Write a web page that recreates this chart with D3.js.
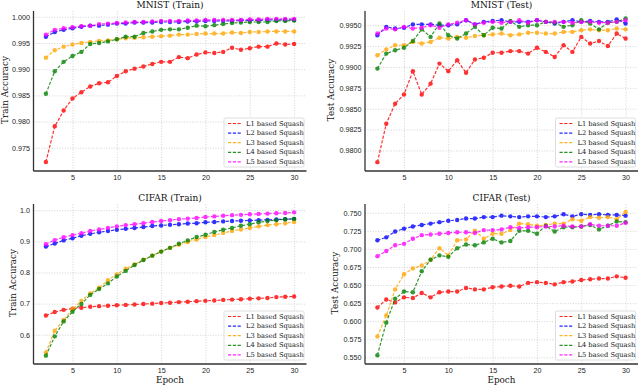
<!DOCTYPE html>
<html>
<head>
<meta charset="utf-8">
<script src="https://cdn.jsdelivr.net/npm/d3@7"></script>
<style>
  body { margin: 0; background: #fff; }
  svg { display: block; font-family: "DejaVu Serif", serif; }
  .grid line { stroke: #c8c8c8; stroke-width: 0.8; stroke-dasharray: 1,1.6; }
  .axis path { stroke: #333; stroke-width: 1.3; }
  .axis text { fill: #222; font-size: 7.2px; }
</style>
</head>
<body>
<div id="chart"></div>
<script>
const epochs = [2, 3, 4, 5, 6, 7, 8, 9, 10, 11, 12, 13, 14, 15, 16, 17, 18, 19, 20, 21, 22, 23, 24, 25, 26, 27, 28, 29, 30];
const seriesNames = ["L1 based Squash", "L2 based Squash", "L3 based Squash", "L4 based Squash", "L5 based Squash"];
const seriesColors = ["#ff0000", "#0000ff", "#ffa500", "#008000", "#ff00ff"];
const xTicks = [5, 10, 15, 20, 25, 30];

// MNIST train
const mnistTrainL1 = [0.9723,0.9791,0.9821,0.9844,0.9856,0.9867,0.9873,0.9875,0.9887,0.9896,0.9901,0.9905,0.9910,0.9914,0.9914,0.9923,0.9921,0.9928,0.9932,0.9931,0.9933,0.9941,0.9937,0.9940,0.9943,0.9943,0.9949,0.9947,0.9948];
const mnistTrainL2 = [0.9962,0.9971,0.9975,0.9978,0.9981,0.9983,0.9983,0.9985,0.9987,0.9987,0.9989,0.9989,0.9989,0.9990,0.9990,0.9990,0.9991,0.9991,0.9992,0.9992,0.9992,0.9992,0.9993,0.9993,0.9993,0.9994,0.9994,0.9994,0.9994];
const mnistTrainL3 = [0.9922,0.9936,0.9943,0.9947,0.9950,0.9952,0.9954,0.9955,0.9957,0.9959,0.9960,0.9961,0.9962,0.9963,0.9964,0.9966,0.9966,0.9967,0.9968,0.9968,0.9968,0.9970,0.9969,0.9971,0.9971,0.9972,0.9972,0.9972,0.9972];
const mnistTrainL4 = [0.9853,0.9896,0.9914,0.9925,0.9933,0.9948,0.9950,0.9953,0.9957,0.9962,0.9962,0.9969,0.9972,0.9975,0.9976,0.9976,0.9979,0.9983,0.9982,0.9984,0.9986,0.9988,0.9989,0.9990,0.9990,0.9990,0.9992,0.9992,0.9993];
const mnistTrainL5 = [0.9966,0.9975,0.9978,0.9980,0.9982,0.9983,0.9986,0.9987,0.9988,0.9989,0.9990,0.9990,0.9991,0.9992,0.9992,0.9992,0.9993,0.9993,0.9994,0.9994,0.9994,0.9994,0.9994,0.9995,0.9995,0.9996,0.9996,0.9996,0.9996];
const mnistTrainTicks = [0.975, 0.980, 0.985, 0.990, 0.995, 1.000];

// MNIST test
const mnistTestL1 = [0.9786,0.9832,0.9856,0.9867,0.9895,0.9867,0.9880,0.9904,0.9895,0.9908,0.9893,0.9909,0.9911,0.9917,0.9917,0.9919,0.9919,0.9916,0.9923,0.9918,0.9912,0.9926,0.9918,0.9936,0.9928,0.9931,0.9925,0.9940,0.9934];
const mnistTestL2 = [0.9938,0.9948,0.9946,0.9947,0.9951,0.9951,0.9951,0.9950,0.9950,0.9951,0.9956,0.9951,0.9954,0.9955,0.9956,0.9954,0.9954,0.9954,0.9956,0.9954,0.9952,0.9954,0.9956,0.9954,0.9955,0.9954,0.9954,0.9957,0.9952];
const mnistTestL3 = [0.9914,0.9921,0.9926,0.9926,0.9930,0.9928,0.9930,0.9935,0.9934,0.9936,0.9935,0.9937,0.9938,0.9939,0.9940,0.9938,0.9939,0.9941,0.9941,0.9940,0.9940,0.9942,0.9942,0.9944,0.9945,0.9944,0.9944,0.9946,0.9945];
const mnistTestL4 = [0.9898,0.9916,0.9920,0.9923,0.9931,0.9945,0.9936,0.9952,0.9938,0.9934,0.9940,0.9948,0.9938,0.9947,0.9946,0.9955,0.9948,0.9950,0.9950,0.9954,0.9953,0.9948,0.9950,0.9956,0.9952,0.9945,0.9953,0.9954,0.9958];
const mnistTestL5 = [0.9940,0.9946,0.9945,0.9948,0.9946,0.9947,0.9950,0.9947,0.9951,0.9953,0.9956,0.9951,0.9953,0.9954,0.9953,0.9954,0.9956,0.9953,0.9956,0.9954,0.9954,0.9954,0.9953,0.9954,0.9954,0.9953,0.9953,0.9954,0.9956];
const mnistTestTicks = [0.9800, 0.9825, 0.9850, 0.9875, 0.9900, 0.9925, 0.9950];

// CIFAR train
const cifarTrainL1 = [0.662,0.673,0.680,0.684,0.687,0.690,0.692,0.693,0.695,0.696,0.697,0.699,0.700,0.702,0.703,0.705,0.706,0.708,0.709,0.710,0.712,0.713,0.714,0.716,0.717,0.718,0.721,0.722,0.723];
const cifarTrainL2 = [0.883,0.893,0.903,0.910,0.918,0.924,0.929,0.933,0.937,0.940,0.943,0.946,0.949,0.951,0.953,0.955,0.957,0.958,0.961,0.962,0.964,0.965,0.966,0.967,0.968,0.969,0.970,0.971,0.972];
const cifarTrainL3 = [0.543,0.613,0.648,0.682,0.709,0.733,0.751,0.775,0.794,0.812,0.826,0.841,0.854,0.867,0.879,0.889,0.898,0.906,0.914,0.920,0.927,0.933,0.938,0.943,0.948,0.952,0.955,0.958,0.962];
const cifarTrainL4 = [0.533,0.595,0.643,0.674,0.699,0.728,0.747,0.765,0.787,0.805,0.824,0.840,0.854,0.867,0.879,0.892,0.903,0.914,0.921,0.930,0.937,0.943,0.950,0.955,0.961,0.965,0.968,0.971,0.972];
const cifarTrainL5 = [0.891,0.904,0.913,0.920,0.926,0.933,0.938,0.943,0.948,0.952,0.955,0.958,0.962,0.965,0.968,0.971,0.973,0.975,0.978,0.980,0.982,0.984,0.985,0.987,0.988,0.989,0.990,0.991,0.993];
const cifarTrainTicks = [0.6, 0.7, 0.8, 0.9, 1.0];

// CIFAR test
const cifarTestL1 = [0.619,0.630,0.626,0.633,0.632,0.639,0.633,0.640,0.641,0.641,0.646,0.644,0.644,0.647,0.648,0.649,0.648,0.653,0.654,0.653,0.651,0.654,0.655,0.657,0.658,0.659,0.659,0.662,0.660];
const cifarTestL2 = [0.712,0.716,0.724,0.728,0.731,0.733,0.735,0.737,0.739,0.740,0.742,0.742,0.744,0.744,0.746,0.745,0.744,0.745,0.745,0.744,0.745,0.748,0.745,0.748,0.747,0.748,0.747,0.747,0.746];
const cifarTestL3 = [0.579,0.608,0.644,0.665,0.673,0.677,0.685,0.701,0.691,0.712,0.713,0.725,0.714,0.721,0.721,0.726,0.735,0.734,0.732,0.733,0.735,0.735,0.741,0.739,0.744,0.743,0.744,0.741,0.751];
const cifarTestL4 = [0.553,0.598,0.631,0.641,0.640,0.669,0.685,0.691,0.689,0.701,0.706,0.705,0.709,0.714,0.709,0.711,0.725,0.725,0.721,0.732,0.724,0.730,0.730,0.731,0.733,0.727,0.732,0.738,0.737];
const cifarTestL5 = [0.690,0.697,0.705,0.707,0.714,0.719,0.720,0.721,0.722,0.723,0.723,0.722,0.726,0.726,0.727,0.730,0.729,0.730,0.730,0.731,0.731,0.732,0.731,0.731,0.734,0.732,0.732,0.732,0.736];
const cifarTestTicks = [0.550, 0.575, 0.600, 0.625, 0.650, 0.675, 0.700, 0.725, 0.750];

const panels = [
    { title: "MNIST (Train)", ylabel: "Train Accuracy", xlabel: "",
      series: [mnistTrainL1, mnistTrainL2, mnistTrainL3, mnistTrainL4, mnistTrainL5],
      ticks: mnistTrainTicks, fmt: ".3f", ydom: [0.97057, 1.0011],
      left: 33.5, top: 11, ylab: 5 },
    { title: "MNIST (Test)", ylabel: "Test Accuracy", xlabel: "",
      series: [mnistTestL1, mnistTestL2, mnistTestL3, mnistTestL4, mnistTestL5],
      ticks: mnistTestTicks, fmt: ".4f", ydom: [0.97754, 0.9967],
      left: 365, top: 11, ylab: 331 },
    { title: "CIFAR (Train)", ylabel: "Train Accuracy", xlabel: "Epoch",
      series: [cifarTrainL1, cifarTrainL2, cifarTrainL3, cifarTrainL4, cifarTrainL5],
      ticks: cifarTrainTicks, fmt: ".1f", ydom: [0.50624, 1.0198],
      left: 33.5, top: 204, ylab: 12.5 },
    { title: "CIFAR (Test)", ylabel: "Test Accuracy", xlabel: "Epoch",
      series: [cifarTestL1, cifarTestL2, cifarTestL3, cifarTestL4, cifarTestL5],
      ticks: cifarTestTicks, fmt: ".3f", ydom: [0.5408, 0.7621],
      left: 365, top: 204, ylab: 335 }
];

const pw = 273, ph = 160;

const svg = d3.select("#chart").append("svg")
    .attr("width", 640)
    .attr("height", 386);

svg.append("rect").attr("width", 640).attr("height", 386).attr("fill", "white");

panels.forEach(function (p) {
    const g = svg.append("g").attr("transform", "translate(" + p.left + "," + p.top + ")");

    const x = d3.scaleLinear().domain([0.6, 31.4]).range([0, pw]);
    const y = d3.scaleLinear().domain(p.ydom).range([ph, 0]);

    // grid
    g.append("g").attr("class", "grid")
        .call(d3.axisLeft(y).tickValues(p.ticks).tickSize(-pw).tickFormat(""))
        .call(s => s.select(".domain").remove());
    g.append("g").attr("class", "grid")
        .attr("transform", "translate(0," + ph + ")")
        .call(d3.axisBottom(x).tickValues(xTicks).tickSize(-ph).tickFormat(""))
        .call(s => s.select(".domain").remove());

    // series
    const line = d3.line().x((d, i) => x(epochs[i])).y(d => y(d));
    p.series.forEach(function (vals, k) {
        const sg = g.append("g").attr("opacity", 0.8);
        sg.append("path")
            .datum(vals)
            .attr("d", line)
            .attr("fill", "none")
            .attr("stroke", seriesColors[k])
            .attr("stroke-width", 1.2)
            .attr("stroke-dasharray", "3.2,1.6");
        sg.selectAll("circle")
            .data(vals)
            .enter().append("circle")
            .attr("cx", (d, i) => x(epochs[i]))
            .attr("cy", d => y(d))
            .attr("r", 2.2)
            .attr("fill", seriesColors[k]);
    });

    // axes
    g.append("g").attr("class", "axis")
        .call(d3.axisLeft(y).tickValues(p.ticks).tickSize(0).tickPadding(3.5).tickFormat(d3.format(p.fmt)))
        .call(s => s.select(".domain").attr("d", "M0,0V" + ph));
    g.append("g").attr("class", "axis")
        .attr("transform", "translate(0," + ph + ")")
        .call(d3.axisBottom(x).tickValues(xTicks).tickSize(0).tickPadding(4))
        .call(s => s.select(".domain").attr("d", "M0,0H" + pw));

    // title and labels
    g.append("text")
        .attr("x", pw / 2).attr("y", -3.5)
        .attr("text-anchor", "middle")
        .attr("font-size", 9).attr("fill", "#111")
        .text(p.title);

    svg.append("text")
        .attr("transform", "translate(" + p.ylab + "," + (p.top + ph / 2 - 1) + ") rotate(-90)")
        .attr("text-anchor", "middle")
        .attr("dominant-baseline", "central")
        .attr("font-size", 8.8).attr("fill", "#111")
        .text(p.ylabel);

    if (p.xlabel) {
        g.append("text")
            .attr("x", pw / 2).attr("y", ph + 19)
            .attr("text-anchor", "middle")
            .attr("font-size", 8.8).attr("fill", "#111")
            .text(p.xlabel);
    }

    // legend, lower right
    const lw = 80, lh = 49;
    const lg = g.append("g").attr("transform", "translate(" + (pw - lw - 2.5) + "," + (ph - lh - 4) + ")");
    lg.append("rect")
        .attr("width", lw).attr("height", lh)
        .attr("rx", 1.5)
        .attr("fill", "white").attr("fill-opacity", 0.85)
        .attr("stroke", "#d6d6d6").attr("stroke-width", 0.8);
    seriesNames.forEach(function (name, k) {
        const ly = 5.5 + k * 9.6;
        lg.append("line")
            .attr("x1", 4).attr("x2", 17)
            .attr("y1", ly).attr("y2", ly)
            .attr("stroke", seriesColors[k]).attr("stroke-opacity", 0.85)
            .attr("stroke-width", 1.2)
            .attr("stroke-dasharray", "3.2,1.6");
        lg.append("text")
            .attr("x", 22).attr("y", ly)
            .attr("dominant-baseline", "central")
            .attr("font-size", 6.7).attr("fill", "#222")
            .text(name);
    });
});
</script>
</body>
</html>
